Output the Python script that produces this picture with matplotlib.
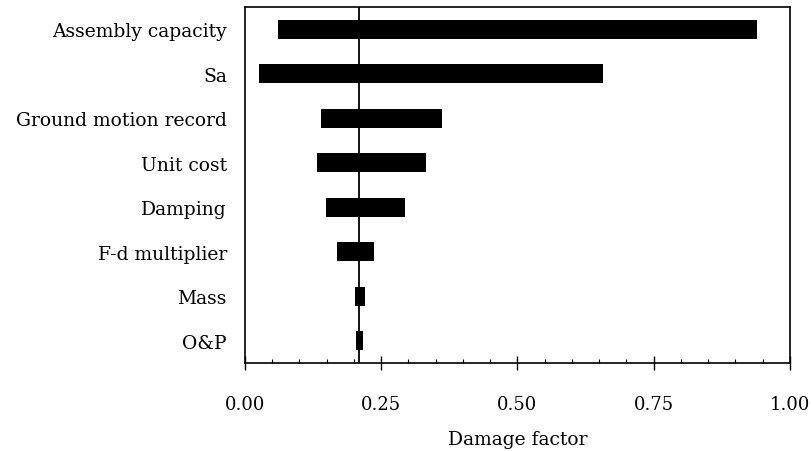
import matplotlib.pyplot as plt
import numpy as np
from matplotlib.ticker import MultipleLocator, FormatStrFormatter

labels = ["Assembly capacity", "Sa", "Ground motion record", "Unit cost",
          "Damping", "F-d multiplier", "Mass", "O&P"]
low = [0.061, 0.026, 0.139, 0.133, 0.148, 0.169, 0.202, 0.204]
high = [0.939, 0.656, 0.362, 0.333, 0.294, 0.237, 0.221, 0.217]
base = 0.21

plt.rcParams['font.family'] = ['DejaVu Serif']

fig = plt.figure(figsize=(8.12, 4.52), dpi=100)
ax = fig.add_axes([0.3017, 0.1947, 0.6712, 0.7876])

ypos = np.arange(len(labels))
widths = np.array(high) - np.array(low)
ax.barh(ypos, widths, left=low, height=0.43, color='black', zorder=2)
ax.axvline(base, color='black', linewidth=1.3, zorder=3)

ax.set_xlim(0, 1)
ax.set_ylim(len(labels) - 0.5, -0.5)
ax.set_yticks(ypos)
ax.set_yticklabels(labels, fontsize=13.5)
ax.tick_params(axis='y', length=0, pad=13)

ax.xaxis.set_major_locator(MultipleLocator(0.25))
ax.xaxis.set_minor_locator(MultipleLocator(0.05))
ax.xaxis.set_major_formatter(FormatStrFormatter('%.2f'))
ax.tick_params(axis='x', which='major', direction='inout', length=10, width=1,
               labelsize=13, pad=18)
ax.tick_params(axis='x', which='minor', direction='in', length=3, width=0.8)
ax.tick_params(top=False, which='both')
ax.set_xlabel("Damage factor", fontsize=13.5, labelpad=12)

for s in ax.spines.values():
    s.set_linewidth(1.2)

fig.savefig("out.png", dpi=100)
